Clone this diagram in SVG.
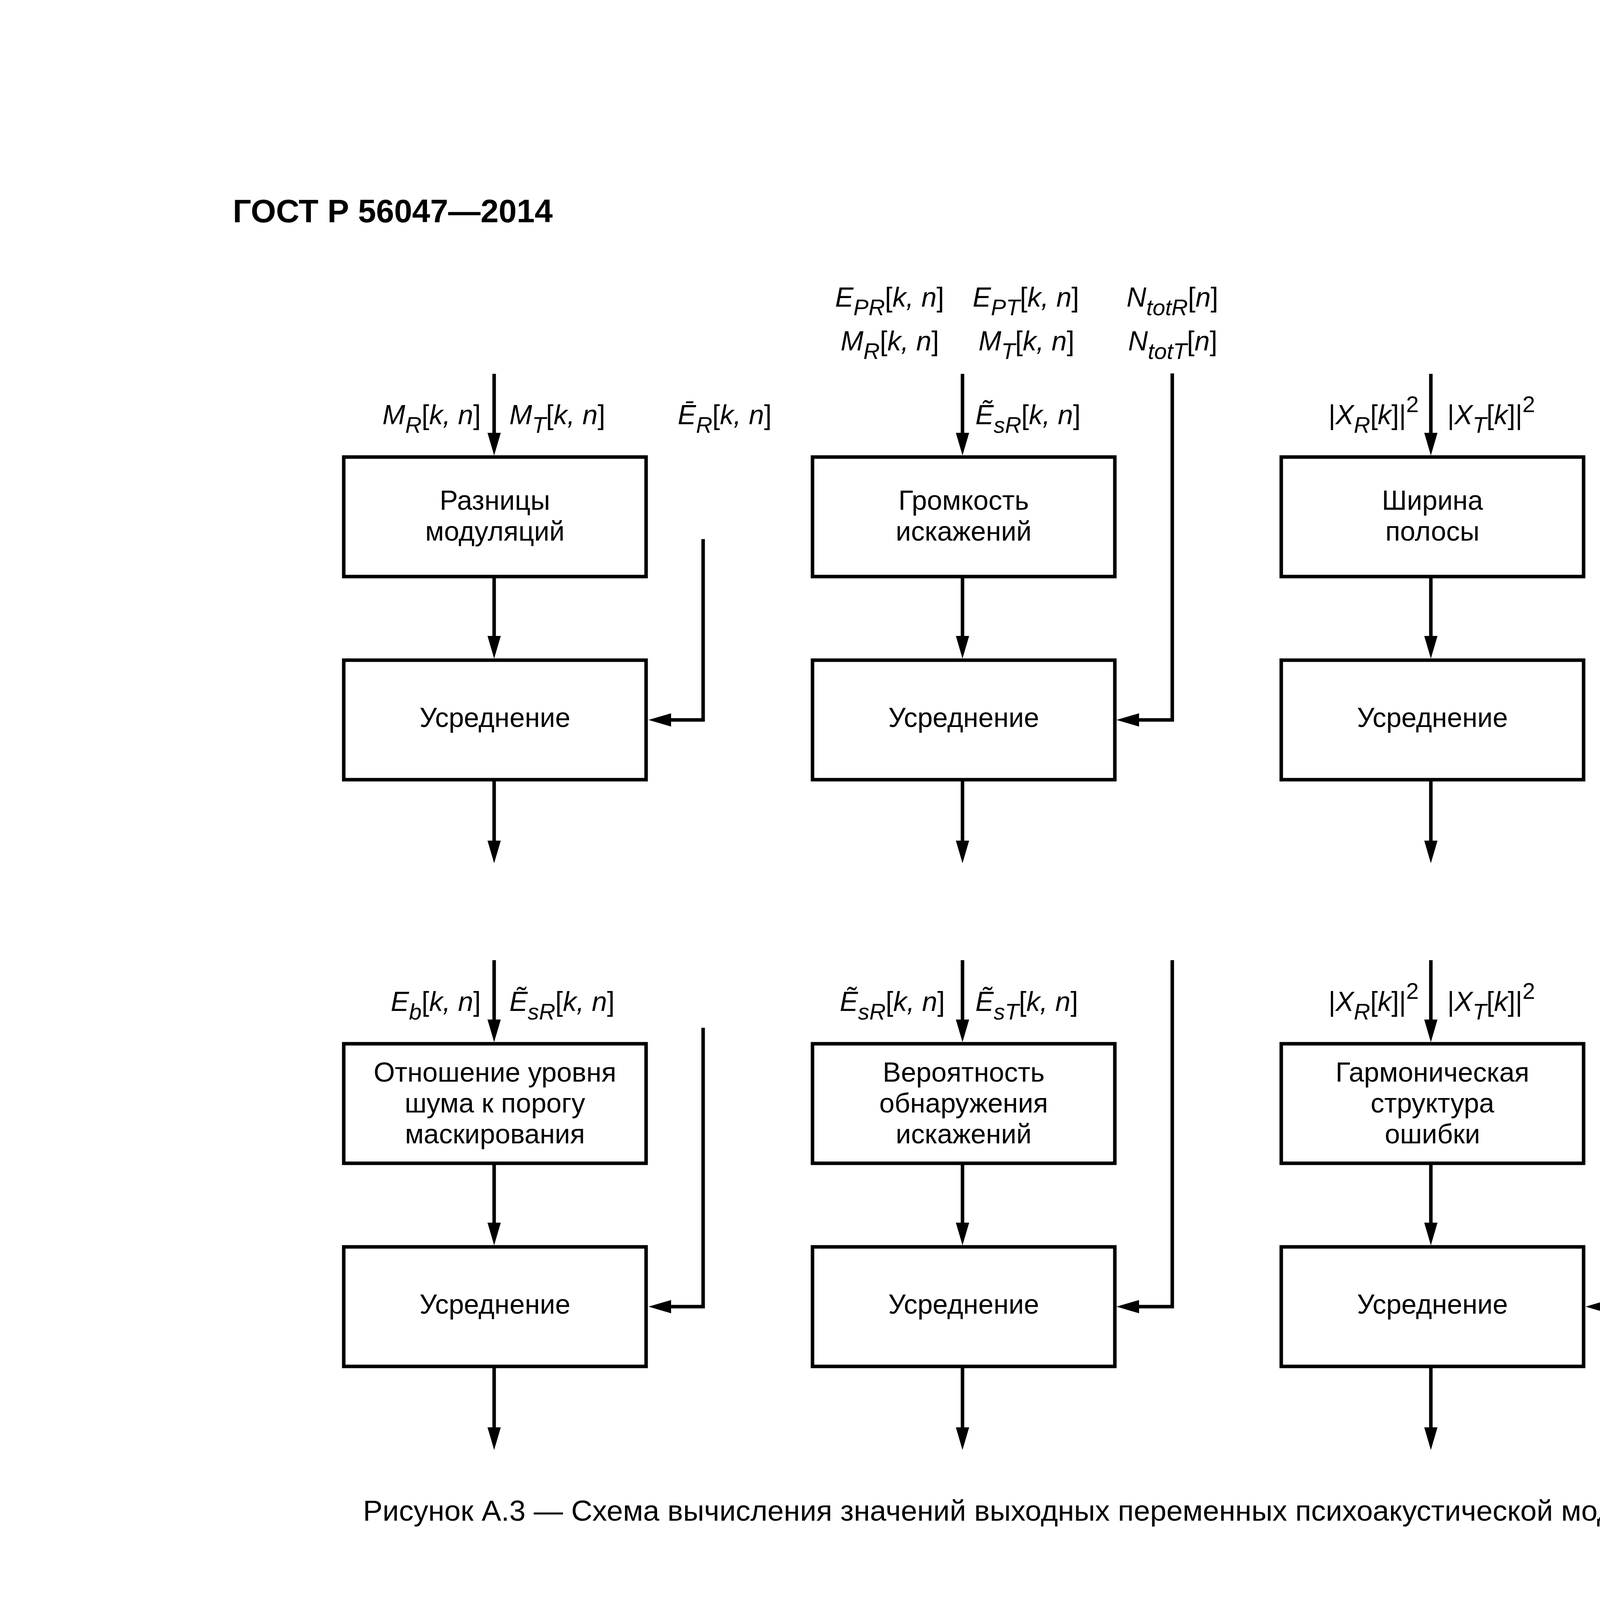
<svg xmlns="http://www.w3.org/2000/svg" width="4960" height="7017" viewBox="0 0 4960 7017">
<style>
text{font-family:"Liberation Sans",Arial,sans-serif;fill:#000}
.hdr{font-size:83px;font-weight:bold}
.lab{font-size:70px;font-style:italic}
.up{font-style:normal}
.sub{font-size:58px}
.box{fill:#fff;stroke:#000;stroke-width:9}
.bt{font-size:70px;text-anchor:middle}
.ln{fill:none;stroke:#000;stroke-width:9;stroke-linejoin:miter}
.body{font-size:70px}
.it{font-style:italic}
.cap{font-size:75px;text-anchor:middle}
.bar{stroke:#000;stroke-width:4}
</style>
<defs>
<marker id="ah" markerUnits="userSpaceOnUse" viewBox="0 0 58 34" markerWidth="58" markerHeight="34" refX="2" refY="17" orient="auto"><path d="M0,0 L58,17 L0,34 z" fill="#000"/></marker>
</defs>
<rect width="4960" height="7017" fill="#fff"/>
<text class="hdr" x="596" y="569">ГОСТ Р 56047—2014</text>

<g id="connectors">
<path class="ln" d="M1265,957 V1110" marker-end="url(#ah)"/>
<path class="ln" d="M1265,1476 V1630" marker-end="url(#ah)"/>
<path class="ln" d="M1265,1996 V2154" marker-end="url(#ah)"/>
<path class="ln" d="M1800,1380 V1843 H1716" marker-end="url(#ah)"/>
<path class="ln" d="M2464,957 V1110" marker-end="url(#ah)"/>
<path class="ln" d="M2464,1476 V1630" marker-end="url(#ah)"/>
<path class="ln" d="M2464,1996 V2154" marker-end="url(#ah)"/>
<path class="ln" d="M3001,956 V1843 H2914" marker-end="url(#ah)"/>
<path class="ln" d="M3663,957 V1110" marker-end="url(#ah)"/>
<path class="ln" d="M3663,1476 V1630" marker-end="url(#ah)"/>
<path class="ln" d="M3663,1996 V2154" marker-end="url(#ah)"/>

<path class="ln" d="M1265,2458 V2612" marker-end="url(#ah)"/>
<path class="ln" d="M1265,2978 V3132" marker-end="url(#ah)"/>
<path class="ln" d="M1265,3498 V3656" marker-end="url(#ah)"/>
<path class="ln" d="M1800,2631 V3345 H1716" marker-end="url(#ah)"/>
<path class="ln" d="M2464,2458 V2612" marker-end="url(#ah)"/>
<path class="ln" d="M2464,2978 V3132" marker-end="url(#ah)"/>
<path class="ln" d="M2464,3498 V3656" marker-end="url(#ah)"/>
<path class="ln" d="M3001,2458 V3345 H2914" marker-end="url(#ah)"/>
<path class="ln" d="M3663,2458 V2612" marker-end="url(#ah)"/>
<path class="ln" d="M3663,2978 V3132" marker-end="url(#ah)"/>
<path class="ln" d="M3663,3498 V3656" marker-end="url(#ah)"/>
<path class="ln" d="M4201,2631 V3345 H4115" marker-end="url(#ah)"/>
</g>

<g id="labels">
<text class="lab" x="1231" y="1086" text-anchor="end">M<tspan class="sub" dy="22">R</tspan><tspan class="up" dy="-22">[</tspan>k, n<tspan class="up">]</tspan></text>
<text class="lab" x="1304" y="1086">M<tspan class="sub" dy="22">T</tspan><tspan class="up" dy="-22">[</tspan>k, n<tspan class="up">]</tspan></text>
<text class="lab" x="1735" y="1086">Ē<tspan class="sub" dy="22">R</tspan><tspan class="up" dy="-22">[</tspan>k, n<tspan class="up">]</tspan></text>

<text class="lab" x="2138" y="785">E<tspan class="sub" dy="22">PR</tspan><tspan class="up" dy="-22">[</tspan>k, n<tspan class="up">]</tspan></text>
<text class="lab" x="2490" y="785">E<tspan class="sub" dy="22">PT</tspan><tspan class="up" dy="-22">[</tspan>k, n<tspan class="up">]</tspan></text>
<text class="lab" x="2884" y="785">N<tspan class="sub" dy="22">totR</tspan><tspan class="up" dy="-22">[</tspan>n<tspan class="up">]</tspan></text>
<text class="lab" x="2152" y="897">M<tspan class="sub" dy="22">R</tspan><tspan class="up" dy="-22">[</tspan>k, n<tspan class="up">]</tspan></text>
<text class="lab" x="2505" y="897">M<tspan class="sub" dy="22">T</tspan><tspan class="up" dy="-22">[</tspan>k, n<tspan class="up">]</tspan></text>
<text class="lab" x="2888" y="897">N<tspan class="sub" dy="22">totT</tspan><tspan class="up" dy="-22">[</tspan>n<tspan class="up">]</tspan></text>
<text class="lab" x="2497" y="1086">Ẽ<tspan class="sub" dy="22">sR</tspan><tspan class="up" dy="-22">[</tspan>k, n<tspan class="up">]</tspan></text>

<text class="lab" x="3632" y="1086" text-anchor="end"><tspan class="up">|</tspan>X<tspan class="sub" dy="22">R</tspan><tspan class="up" dy="-22">[</tspan>k<tspan class="up">]|</tspan><tspan class="up sub" dy="-31">2</tspan></text>
<text class="lab" x="3705" y="1086"><tspan class="up">|</tspan>X<tspan class="sub" dy="22">T</tspan><tspan class="up" dy="-22">[</tspan>k<tspan class="up">]|</tspan><tspan class="up sub" dy="-31">2</tspan></text>

<text class="lab" x="1231" y="2588" text-anchor="end">E<tspan class="sub" dy="22">b</tspan><tspan class="up" dy="-22">[</tspan>k, n<tspan class="up">]</tspan></text>
<text class="lab" x="1304" y="2588">Ẽ<tspan class="sub" dy="22">sR</tspan><tspan class="up" dy="-22">[</tspan>k, n<tspan class="up">]</tspan></text>
<text class="lab" x="2419" y="2588" text-anchor="end">Ẽ<tspan class="sub" dy="22">sR</tspan><tspan class="up" dy="-22">[</tspan>k, n<tspan class="up">]</tspan></text>
<text class="lab" x="2497" y="2588">Ẽ<tspan class="sub" dy="22">sT</tspan><tspan class="up" dy="-22">[</tspan>k, n<tspan class="up">]</tspan></text>
<text class="lab" x="3632" y="2588" text-anchor="end"><tspan class="up">|</tspan>X<tspan class="sub" dy="22">R</tspan><tspan class="up" dy="-22">[</tspan>k<tspan class="up">]|</tspan><tspan class="up sub" dy="-31">2</tspan></text>
<text class="lab" x="3705" y="2588"><tspan class="up">|</tspan>X<tspan class="sub" dy="22">T</tspan><tspan class="up" dy="-22">[</tspan>k<tspan class="up">]|</tspan><tspan class="up sub" dy="-31">2</tspan></text>
<text class="lab" transform="translate(4296,3379) rotate(-90)">Энергетический порог</text>
</g>

<g id="n-mod-diff"><rect class="box" x="880" y="1170" width="774" height="306"/><text class="bt" x="1267" y="1305">Разницы</text><text class="bt" x="1267" y="1384">модуляций</text></g>
<g id="n-avg-1"><rect class="box" x="880" y="1690" width="774" height="306"/><text class="bt" x="1267" y="1861">Усреднение</text></g>
<g id="n-noise-loud"><rect class="box" x="2080" y="1170" width="774" height="306"/><text class="bt" x="2467" y="1305">Громкость</text><text class="bt" x="2467" y="1384">искажений</text></g>
<g id="n-avg-2"><rect class="box" x="2080" y="1690" width="774" height="306"/><text class="bt" x="2467" y="1861">Усреднение</text></g>
<g id="n-bandwidth"><rect class="box" x="3280" y="1170" width="774" height="306"/><text class="bt" x="3667" y="1305">Ширина</text><text class="bt" x="3667" y="1384">полосы</text></g>
<g id="n-avg-3"><rect class="box" x="3280" y="1690" width="774" height="306"/><text class="bt" x="3667" y="1861">Усреднение</text></g>

<g id="n-nmr"><rect class="box" x="880" y="2672" width="774" height="306"/><text class="bt" x="1267" y="2769">Отношение уровня</text><text class="bt" x="1267" y="2848">шума к порогу</text><text class="bt" x="1267" y="2927">маскирования</text></g>
<g id="n-avg-4"><rect class="box" x="880" y="3192" width="774" height="306"/><text class="bt" x="1267" y="3363">Усреднение</text></g>
<g id="n-detect"><rect class="box" x="2080" y="2672" width="774" height="306"/><text class="bt" x="2467" y="2769">Вероятность</text><text class="bt" x="2467" y="2848">обнаружения</text><text class="bt" x="2467" y="2927">искажений</text></g>
<g id="n-avg-5"><rect class="box" x="2080" y="3192" width="774" height="306"/><text class="bt" x="2467" y="3363">Усреднение</text></g>
<g id="n-harm"><rect class="box" x="3280" y="2672" width="774" height="306"/><text class="bt" x="3667" y="2769">Гармоническая</text><text class="bt" x="3667" y="2848">структура</text><text class="bt" x="3667" y="2927">ошибки</text></g>
<g id="n-avg-6"><rect class="box" x="3280" y="3192" width="774" height="306"/><text class="bt" x="3667" y="3363">Усреднение</text></g>

<text class="cap" x="2593" y="3893">Рисунок А.3 — Схема вычисления значений выходных переменных психоакустической модели</text>

<g id="body">
<text class="body" x="803" y="4145" textLength="3792" lengthAdjust="spacing">Для двухканальных аудиосигналов значения переменных для каждого канала следует рассчитывать отдель-</text>
<text class="body" x="588" y="4238" textLength="4007" lengthAdjust="spacing">но, а затем усреднять. Значения всех переменных (кроме значений переменных ADBB и MFPDB) для каждого кана-</text>
<text class="body" x="588" y="4331" textLength="1998" lengthAdjust="spacing">ла сигнала рассчитывают независимо от второго канала.</text>
<text class="body" x="803" y="4424" textLength="3792" lengthAdjust="spacing">Все значения выходных переменных модели получают путем усреднения по всем фреймам функций времени</text>
<text class="body" x="588" y="4517" textLength="3029" lengthAdjust="spacing">и частоты, введенных на предыдущем шаге (в результате имеем скалярное значение).</text>
<text class="body" x="803" y="4610" textLength="3792" lengthAdjust="spacing">Значения, которые будут усреднены, должны лежать в границах, определяемых следующим условием: нача-</text>
<text class="body" x="588" y="4703" textLength="4007" lengthAdjust="spacing">ло или конец данных, которые будут подвержены усреднению, определяют как первую позицию с начала или с конца</text>
<text class="body" x="588" y="4796" textLength="4007" lengthAdjust="spacing">последовательности значений амплитуд аудиосигнала, для которой сумма пяти последовательных абсолютных</text>
<text class="body" x="588" y="4889" textLength="4007" lengthAdjust="spacing">значений амплитуд превышает 200 в любом из аудио каналов. Фреймы, которые лежат вне этих границ, следует</text>
<text class="body" x="588" y="4982" textLength="4007" lengthAdjust="spacing">игнорировать при усреднении. Значение порога 200 используют в случае, если амплитуды входных аудиосигналов</text>
<text class="body" x="588" y="5075" textLength="4007" lengthAdjust="spacing">нормализованы в диапазоне от минус 32768 до плюс 32767. В противном случае значение порога <tspan class="it">A</tspan><tspan class="it" font-size="50" dy="14">th</tspan><tspan dy="-14"> вычисляют</tspan></text>
<text class="body" x="588" y="5167" textLength="752" lengthAdjust="spacing">следующим образом:</text>
</g>

<g id="formula-a64">
<text class="body" x="2318" y="5362"><tspan class="it">A</tspan><tspan class="it" font-size="50" dy="14">th</tspan><tspan dy="-14"> = 200</tspan></text>
<text class="body" x="2746" y="5313" text-anchor="middle"><tspan class="it">A</tspan><tspan font-size="50" dy="12">max</tspan></text>
<line class="bar" x1="2639" y1="5344" x2="2854" y2="5344"/>
<text class="body" x="2746" y="5423" text-anchor="middle">32768</text>
<text class="body" x="2858" y="5365">,</text>
<text class="body" x="4595" y="5340" text-anchor="end">(А.64)</text>
</g>

<g id="body2">
<text class="body" x="588" y="5552" textLength="2185" lengthAdjust="spacing">где <tspan class="it">A</tspan><tspan font-size="50" dy="14">max</tspan><tspan dy="-14"> — максимальное значение амплитуды аудиосигнала.</tspan></text>
<text class="body" x="803" y="5644" textLength="3792" lengthAdjust="spacing">В дальнейшем индекс фрейма <tspan class="it">n</tspan> начинается с нуля для первого фрейма, удовлетворяющего условиям про-</text>
<text class="body" x="588" y="5733" textLength="4007" lengthAdjust="spacing">верки границ с порогом <tspan class="it">A</tspan><tspan class="it" font-size="50" dy="14">th</tspan><tspan dy="-14">, и отсчитывает число фреймов </tspan><tspan class="it">N</tspan> вплоть до последнего фрейма, удовлетворяющего</text>
<text class="body" x="588" y="5822" textLength="1033" lengthAdjust="spacing">вышеприведенному условию.</text>
<text class="body" x="803" y="5916" textLength="1957" lengthAdjust="spacing">А.1.2.3.2  Оконная разница модуляций 1 (WinModDiff1B)</text>
<text class="body" x="803" y="6005" textLength="2386" lengthAdjust="spacing">Вычисляют мгновенную разницу модуляций, <tspan class="it">M</tspan><tspan font-size="50" dy="14">diff1</tspan><tspan class="it" font-size="50">B</tspan><tspan dy="-14">[</tspan><tspan class="it">k, n</tspan>], по формуле</text>
</g>

<g id="formula-a65">
<text class="body" x="2037" y="6184"><tspan class="it">M</tspan><tspan font-size="46" dy="16">diff1</tspan><tspan class="it" font-size="38" dy="10">B</tspan><tspan dy="-26"> [</tspan><tspan class="it">k, n</tspan>]</text>
<text class="body" x="2442" y="6184">=</text>
<line class="bar" x1="2492" y1="6155" x2="3135" y2="6155"/>
<text class="body" x="2813" y="6130" text-anchor="middle">| <tspan class="it">M</tspan><tspan class="it" font-size="50" dy="14">T</tspan><tspan dy="-14">[</tspan><tspan class="it">k,n</tspan>] − <tspan class="it">M</tspan><tspan class="it" font-size="50" dy="14">R</tspan><tspan dy="-14">[</tspan><tspan class="it">k,n</tspan>]|</text>
<text class="body" x="2814" y="6233" text-anchor="middle">1+ <tspan class="it">M</tspan><tspan class="it" font-size="50" dy="14">R</tspan><tspan dy="-14">[</tspan><tspan class="it">k,n</tspan>]</text>
<text class="body" x="3142" y="6190">.</text>
<text class="body" x="4595" y="6180" text-anchor="end">(А.65)</text>
</g>

<text class="body" x="604" y="6441">16</text>
</svg>
